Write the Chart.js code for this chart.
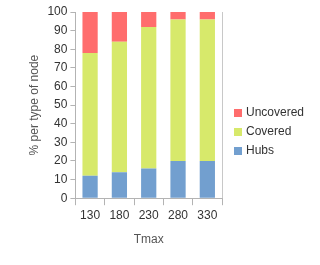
<!DOCTYPE html>
<html>
<head>
<meta charset="utf-8">
<script src="https://cdn.jsdelivr.net/npm/chart.js@4.4.0/dist/chart.umd.min.js"></script>
<style>
  html, body { margin: 0; padding: 0; background: #fff; }
  #wrap { width: 320px; height: 265px; }
</style>
</head>
<body>
<div id="wrap"><canvas id="chart"></canvas></div>
<script>
// data
const categories = ['130', '180', '230', '280', '330'];
const hubs = [12, 14, 16, 20, 20];
const covered = [66, 70, 76, 76, 76];
const uncovered = [22, 16, 8, 4, 4];

// right border of the plot + legend drawn beside it
const sideStuff = {
    id: 'sideStuff',
    afterDraw(chart) {
        const a = chart.chartArea;
        const ctx = chart.ctx;
        ctx.save();
        ctx.strokeStyle = '#c8c8c8';
        ctx.lineWidth = 1;
        ctx.beginPath();
        ctx.moveTo(Math.round(a.right) + 0.5, a.top);
        ctx.lineTo(Math.round(a.right) + 0.5, a.bottom);
        ctx.stroke();

        // legend, top entry is the top of the stack
        const sets = chart.data.datasets.slice().reverse();
        ctx.font = '12px "Liberation Sans", Arial, sans-serif';
        ctx.textBaseline = 'middle';
        sets.forEach((ds, i) => {
            const y = 113 + i * 19;
            ctx.fillStyle = ds.backgroundColor;
            ctx.fillRect(a.right + 12, y - 4, 8, 8);
            ctx.fillStyle = '#333';
            ctx.fillText(ds.label, a.right + 24, y);
        });
        ctx.restore();
    }
};

Chart.defaults.font.family = '"Liberation Sans", Arial, sans-serif';
Chart.defaults.font.size = 12;
Chart.defaults.color = '#444';

new Chart(document.getElementById('chart'), {
    type: 'bar',
    data: {
        labels: categories,
        datasets: [
            { label: 'Hubs', data: hubs, backgroundColor: '#729fcf' },
            { label: 'Covered', data: covered, backgroundColor: '#d7e96b' },
            { label: 'Uncovered', data: uncovered, backgroundColor: '#ff6d6d' }
        ]
    },
    options: {
        responsive: true,
        maintainAspectRatio: false,
        animation: false,
        layout: { padding: { top: 12, right: 98, left: 23, bottom: 14 } },
        datasets: { bar: { categoryPercentage: 1, barPercentage: 0.52 } },
        plugins: {
            legend: { display: false },
            tooltip: { enabled: false }
        },
        scales: {
            x: {
                stacked: true,
                grid: { offset: true, drawOnChartArea: false, tickLength: 7, color: '#b3b3b3' },
                border: { color: '#b3b3b3' },
                ticks: { padding: 3, color: '#333' },
                title: { display: true, text: 'Tmax', color: '#555', padding: { top: 7 } }
            },
            y: {
                stacked: true,
                min: 0,
                max: 100,
                grid: { drawOnChartArea: false, tickLength: 5, color: '#b3b3b3' },
                border: { color: '#b3b3b3' },
                ticks: { stepSize: 10, padding: 3, color: '#333' },
                title: { display: true, text: '% per type of node', color: '#555', padding: { bottom: 3 } }
            }
        }
    },
    plugins: [sideStuff]
});
</script>
</body>
</html>
